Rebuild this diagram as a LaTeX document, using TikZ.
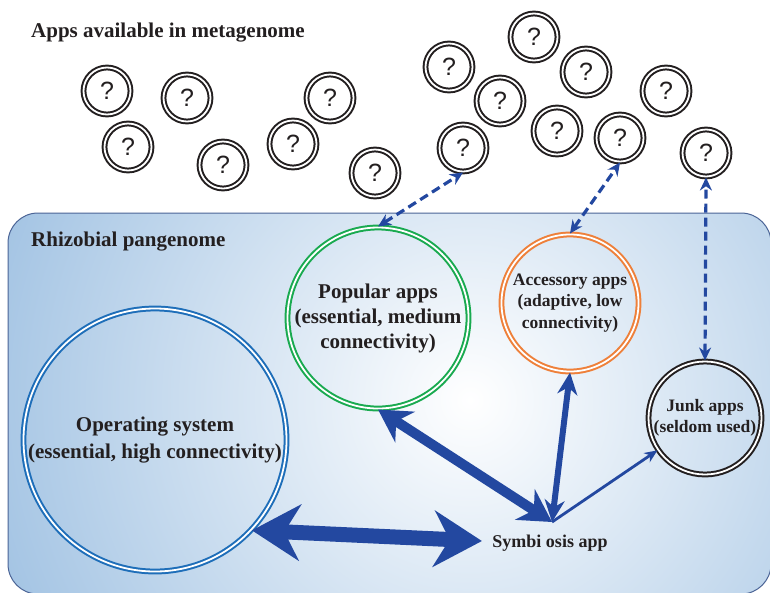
\documentclass[tikz,border=0pt]{standalone}
\usepackage{fontspec}
\setmainfont{Liberation Serif}
\newfontfamily\qfont{Liberation Sans}
\usetikzlibrary{arrows.meta}
\definecolor{arrowblue}{RGB}{35,72,160}
\definecolor{osblue}{RGB}{30,110,185}
\definecolor{popgreen}{RGB}{25,170,80}
\definecolor{accorange}{RGB}{238,128,58}
\definecolor{junkgray}{RGB}{35,31,32}
\definecolor{textgray}{RGB}{35,31,32}
\definecolor{bgblue}{RGB}{145,184,222}
\definecolor{bgline}{RGB}{75,100,150}
\tikzset{
	qnode/.style={circle, draw=junkgray, line width=2pt, double=white, double distance=1.8pt, minimum size=47pt, inner sep=0pt, text=junkgray, font=\qfont\fontsize{25}{25}\selectfont},
	appnode/.style={circle, line width=2pt, double=white, double distance=1.8pt, inner sep=0pt, align=center, text=textgray},
	bigarrow/.style={arrowblue, line width=#1},
	dasharrow/.style={arrowblue, line width=3.2pt, dash pattern=on 9pt off 5pt, {Stealth[length=13pt,width=12pt]}-{Stealth[length=13pt,width=12pt]}}
}

\begin{document}
\begin{tikzpicture}[x=1pt,y=-1pt]
	\useasboundingbox (0,0) rectangle (770,592);
	% pangenome box
	\begin{scope}
		\clip[rounded corners=30pt] (8,213) rectangle (771,594);
		\shade[inner color=white, outer color=bgblue] (470,400) circle (600pt);
	\end{scope}
	\draw[bgline, line width=1pt, rounded corners=30pt] (8,213) rectangle (771,594);

	\node[anchor=west, inner sep=0pt, text=textgray, font=\bfseries\fontsize{21}{25}\selectfont] (metatitle) at (31,33) {Apps available in metagenome};
	\node[anchor=west, inner sep=0pt, text=textgray, font=\bfseries\fontsize{21}{25}\selectfont] (pantitle) at (31,242) {Rhizobial pangenome};

	% unknown apps
	\foreach \x/\y [count=\i] in {107/91, 128/147, 187/98, 223/165, 293/144, 330/98, 375/173, 449/67, 463/148, 500/101, 534/37, 557/131, 586/72, 620/138, 666/91, 706/153}
		\node[qnode] (q\i) at (\x,\y) {?};

	% apps of the pangenome
	\node[appnode, draw=osblue, minimum size=263pt, font=\bfseries\fontsize{21}{27}\selectfont] (os) at (155,440) {Operating system\\(essential, high connectivity)};
	\node[appnode, draw=popgreen, minimum size=181pt, font=\bfseries\fontsize{21}{25}\selectfont] (pop) at (378,318) {Popular apps\\(essential, medium\\connectivity)};
	\node[appnode, draw=accorange, minimum size=137pt, font=\bfseries\fontsize{17.5}{21.5}\selectfont] (acc) at (570,303) {Accessory apps\\(adaptive, low\\connectivity)};
	\node[appnode, draw=junkgray, minimum size=113pt, font=\bfseries\fontsize{17.5}{21}\selectfont] (junk) at (705,418) {Junk apps\\(seldom used)};
	\node[text=textgray, font=\bfseries\fontsize{18}{20}\selectfont] (sym) at (550,543) {Symbi osis app};
	\coordinate (hub) at (552,522);

	% connections
	\draw[bigarrow=15pt, {Stealth[length=48pt,width=56pt]}-{Stealth[length=48pt,width=56pt]}] (os.-43) -- ([xshift=-7pt,yshift=2pt]sym.west);
	\draw[bigarrow=10pt, {Stealth[length=32pt,width=36pt]}-{Stealth[length=32pt,width=36pt]}] (pop.south) -- (hub);
	\draw[bigarrow=6pt, {Stealth[length=22pt,width=20pt]}-{Stealth[length=22pt,width=20pt]}] (acc.south) -- (hub);
	\draw[bigarrow=2.8pt, -{Stealth[length=13pt,width=11pt]}] (hub) -- (junk);

	\draw[dasharrow] (pop.north) -- (q9.south);
	\draw[dasharrow] (acc.north) -- (q14.south);
	\draw[dasharrow] (junk.north) -- (q16.south);
\end{tikzpicture}
\end{document}
